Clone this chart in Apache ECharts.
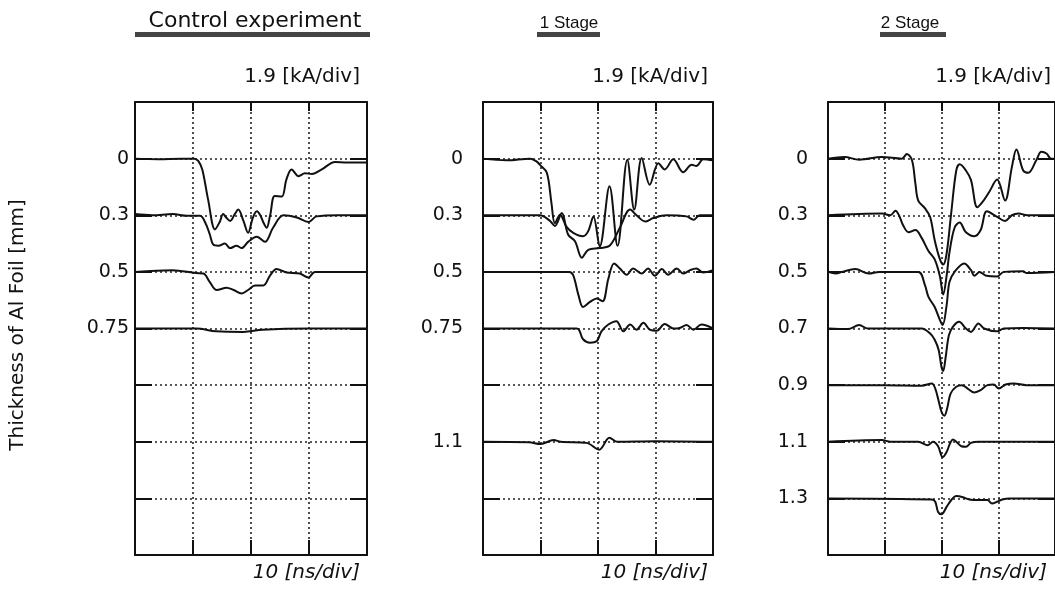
<!DOCTYPE html>
<html>
<head>
<meta charset="utf-8">
<script src="https://cdn.jsdelivr.net/npm/echarts@6/dist/echarts.min.js"></script>
<style>html,body{margin:0;padding:0;background:#fff}#c{width:1055px;height:593px}</style>
</head>
<body>
<div id="c"></div>
<script>
// ---- data: time [ns], deflection below baseline [div] (1 div = 1.9 kA) ----
const panelTitles = ['Control experiment', '1 Stage', '2 Stage'];
const currentScale = '1.9 [kA/div]';
const timeScale = '10 [ns/div]';
const yTitle = 'Thickness of Al Foil [mm]';

// row index (grid division) of each trace baseline and its label
const ctrlRows = [1, 2, 3, 4];
const ctrlLabels = ['0', '0.3', '0.5', '0.75'];
const s1Rows = [1, 2, 3, 4, 6];
const s1Labels = ['0', '0.3', '0.5', '0.75', '1.1'];
const s2Rows = [1, 2, 3, 4, 5, 6, 7];
const s2Labels = ['0', '0.3', '0.5', '0.7', '0.9', '1.1', '1.3'];

// Control experiment traces
const ctrl_0 = [[0,0],[4,0.01],[8,0],[10.2,0],[10.9,0.04],[11.6,0.19],[12.6,0.72],[13.8,1.25],[14.6,1.12],[15.2,0.98],[15.8,1.05],[16.4,1.1],[17.2,0.98],[17.8,0.9],[18.7,1.1],[19.5,1.31],[20.3,1.05],[21,0.93],[21.6,1.0],[22.1,1.12],[22.7,1.22],[23.3,1.0],[24.1,0.66],[25.3,0.67],[26.1,0.37],[27,0.19],[28.2,0.31],[29.3,0.26],[30.5,0.27],[32.2,0.19],[34.5,0.06],[36.5,0.07],[40,0.07]];
const ctrl_03 = [[0,-0.02],[3,0],[6.5,-0.02],[9,0.01],[11.2,0.01],[12.2,0.15],[12.9,0.34],[13.5,0.52],[14.4,0.54],[15.5,0.5],[16.4,0.58],[17.5,0.54],[18.4,0.58],[19.5,0.47],[21,0.38],[22.4,0.47],[23.8,0.22],[25.6,0],[27.9,0.04],[29.9,0.12],[31.3,0.02],[35,0],[40,0]];
const ctrl_05 = [[0,0],[6.4,-0.03],[10.5,0.02],[11.8,0.03],[12.9,0.18],[14.1,0.32],[15.8,0.28],[17,0.32],[18.4,0.38],[19.5,0.32],[20.7,0.24],[22.1,0.24],[23.3,0.06],[24.4,-0.05],[26.1,0.01],[28.4,0.03],[29.9,0.1],[31,0],[40,0]];
const ctrl_075 = [[0,0],[10.6,0],[14,0.05],[18.7,0.06],[22,0.02],[30,0],[40,0]];

// 1 Stage traces
const s1_0 = [[0,0],[4.1,0.03],[8.2,0],[9.3,0.05],[9.9,0.11],[11.1,0.25],[11.9,0.78],[12.5,1.14],[13.4,0.99],[14.5,1.2],[15.7,1.31],[17.4,1.37],[18.3,1.28],[19.2,1.02],[20.3,1.55],[22,0.49],[23.4,1.54],[25.1,0.02],[26.3,0.9],[27.6,-0.01],[29,0.46],[30.5,0.08],[31.6,0.19],[33.1,0.01],[34.8,0.24],[36.3,0.11],[37.1,0.13],[38.3,0.01],[40,0.03]];
const s1_03 = [[0,0],[9.9,0],[11.65,0.1],[12.5,0.19],[13.7,-0.04],[14.8,0.34],[16,0.46],[17.2,0.75],[18.3,0.61],[20.3,0.58],[22.1,0.53],[23.8,0.22],[25.6,-0.1],[26.7,0],[28.2,0.11],[29.6,0.05],[31.9,0],[35.4,0.02],[36.6,0.08],[37.7,0],[40,0]];
const s1_05 = [[0,0],[15,0],[15.7,0.06],[16.6,0.41],[17.4,0.62],[18.6,0.53],[19.8,0.47],[20.8,0.52],[21.8,0.12],[22.8,-0.15],[23.8,-0.06],[25,0.05],[26.1,-0.06],[27.6,0.03],[28.7,-0.06],[29.9,0.07],[31.1,-0.05],[32.2,0.05],[33.7,-0.06],[34.8,0.03],[36,-0.03],[37.1,-0.06],[38.3,0.01],[40,-0.03]];
const s1_075 = [[0,0],[16.3,0],[17.4,0.19],[18.6,0.25],[19.8,0.22],[20.6,0.05],[21.8,-0.07],[23.2,-0.13],[24.4,0.05],[25.6,-0.07],[26.7,0.02],[27.9,-0.1],[29,0.02],[30.2,0.04],[31.6,-0.08],[33.1,0],[34.2,-0.01],[35.4,-0.06],[36.6,0.02],[38,-0.07],[40,0]];
const s1_11 = [[0,0],[8,0.01],[10,0.04],[12.3,-0.03],[13.5,0],[18,0.02],[20.2,0.14],[22,-0.07],[23.3,0],[30,-0.01],[40,0]];

// 2 Stage traces
const s2_0 = [[0,0],[2.9,-0.03],[5.5,0.02],[9.5,-0.03],[13,0],[13.9,-0.08],[14.8,0.03],[15.4,0.44],[15.9,0.74],[17.1,0.88],[18,1.03],[18.8,1.44],[19.7,1.77],[20.3,1.87],[20.9,1.68],[21.7,0.97],[22.6,0.21],[23.2,0.1],[24.3,0.21],[25.2,0.38],[26.3,0.86],[27.2,0.77],[28.4,0.59],[29.8,0.37],[31.2,0.74],[32.4,0.15],[33.2,-0.16],[34.4,0.21],[35.3,0.25],[36.7,0.03],[37.6,-0.12],[38.5,-0.09],[39.3,0],[40,0]];
const s2_03 = [[0,0],[9.5,-0.03],[11,0],[11.9,-0.08],[12.5,0],[13.3,0.19],[14.2,0.3],[15.4,0.26],[16.5,0.4],[17.7,0.63],[18.8,0.78],[19.7,1.07],[20.3,1.4],[20.9,1.07],[21.4,0.66],[22.3,0.22],[23.2,0.13],[24.3,0.3],[25.8,0.37],[26.9,0.26],[28,-0.07],[29.8,0.03],[31.2,0.1],[32.4,0],[33.6,-0.03],[35.1,0],[40,0]];
const s2_05 = [[0,0],[1.4,0.03],[2.5,0],[4.8,-0.05],[7.2,0.03],[9,0],[15.9,0],[17.1,0.24],[17.7,0.44],[18.8,0.62],[19.6,0.82],[20.2,0.94],[20.9,0.59],[21.4,0.18],[22.3,0],[24,-0.15],[25.2,-0.03],[25.8,0.07],[26.7,0],[27.9,0.07],[29.8,0.08],[31,0],[34.4,-0.01],[35,0.02],[40,0]];
const s2_07 = [[0,0],[3.5,0.01],[5.5,-0.06],[7,0],[16.5,0],[18,0.09],[18.8,0.2],[19.5,0.38],[20,0.68],[20.3,0.75],[20.7,0.53],[21.3,0.12],[22,-0.03],[23.1,-0.12],[24.3,0],[25.2,0.06],[26.5,-0.09],[27.5,0],[29.8,0.05],[31,0],[34.4,-0.01],[40,0]];
const s2_09 = [[0,0],[10,0],[16.5,0.01],[18.3,-0.03],[18.9,0.06],[19.4,0.24],[20,0.47],[20.5,0.54],[21,0.41],[21.6,0.15],[22.6,0.03],[23.6,0],[24.6,0.06],[25.8,0.13],[26.9,0.09],[28.1,0],[29.2,-0.01],[30.1,0.06],[31.3,-0.01],[32.7,-0.03],[35,0],[40,0]];
const s2_11 = [[0,0],[9.5,-0.03],[11,0],[15.9,0],[17.6,0.06],[18.5,0],[19.4,0.08],[20.2,0.27],[20.9,0.18],[21.5,0.03],[22,-0.04],[22.6,0],[23.5,0.08],[24.3,0.09],[25.2,0.02],[26.5,0],[40,0]];
const s2_13 = [[0,0],[18.3,0.02],[18.9,0.06],[19.4,0.24],[20,0.28],[20.9,0.15],[21.8,0.02],[22.6,-0.04],[23.8,-0.02],[24.9,0.02],[26.4,0.03],[28.1,0.03],[28.9,0.09],[29.8,0.06],[30.7,0.02],[32,0],[40,0]];

const panels = [
  {rows: ctrlRows, labels: ctrlLabels, traces: [ctrl_0, ctrl_03, ctrl_05, ctrl_075]},
  {rows: s1Rows, labels: s1Labels, traces: [s1_0, s1_03, s1_05, s1_075, s1_11]},
  {rows: s2Rows, labels: s2Labels, traces: [s2_0, s2_03, s2_05, s2_07, s2_09, s2_11, s2_13]}
];

// ---- layout ----
const gridLeft = [135, 483, 828];
const gridWidth = [232, 230, 231];
const labelMargin = [6, 20, 20];
const FONT = 'DejaVu Sans';

const grids = [], xAxes = [], yAxes = [], series = [];
const tick = len => ({show: true, inside: true, length: len, lineStyle: {color: '#111', width: 2}});
const axLine = () => ({show: true, onZero: false, lineStyle: {color: '#111', width: 2}});
const dotted = {show: true, lineStyle: {color: '#222', width: 1.6, type: [2, 3]}};
panels.forEach((p, i) => {
  grids.push({left: gridLeft[i], top: 102, width: gridWidth[i], height: 453});
  xAxes.push({gridIndex: i, type: 'value', min: 0, max: 40, interval: 10, position: 'bottom',
    axisLine: axLine(), axisTick: tick(15), axisLabel: {show: false}, splitLine: dotted});
  xAxes.push({gridIndex: i, type: 'value', min: 0, max: 40, interval: 10, position: 'top',
    axisLine: axLine(), axisTick: tick(9), axisLabel: {show: false}, splitLine: {show: false}});
  const labelMap = {};
  p.rows.forEach((r, k) => { labelMap[r] = p.labels[k]; });
  yAxes.push({gridIndex: i, type: 'value', min: 0, max: 8, interval: 1, inverse: true, position: 'left',
    axisLine: axLine(), axisTick: tick(17),
    axisLabel: {show: true, margin: labelMargin[i], color: '#111', fontFamily: FONT, fontSize: 19,
      formatter: v => (labelMap[v] !== undefined ? labelMap[v] : '')},
    splitLine: dotted});
  yAxes.push({gridIndex: i, type: 'value', min: 0, max: 8, interval: 1, inverse: true, position: 'right',
    axisLine: axLine(), axisTick: tick(17), axisLabel: {show: false}, splitLine: {show: false}});
  p.traces.forEach((tr, k) => {
    const base = p.rows[k];
    series.push({type: 'line', xAxisIndex: 2 * i, yAxisIndex: 2 * i,
      data: tr.map(d => [d[0], base + d[1]]),
      showSymbol: false, smooth: 0.35, silent: true, clip: true,
      lineStyle: {color: '#111', width: 2}});
  });
});

const txt = (x, y, s, font, align) => ({type: 'text', x: x, y: y, silent: true,
  style: {text: s, fill: '#111', font: font, textAlign: align, textVerticalAlign: 'middle'}});
const F = (size, fam, style) => (style ? style + ' ' : '') + size + 'px "' + (fam || FONT) + '"';

const graphic = [
  txt(255, 21, panelTitles[0], F(22), 'center'),
  txt(569, 23, panelTitles[1], F(17, 'Liberation Sans'), 'center'),
  txt(910, 23, panelTitles[2], F(17, 'Liberation Sans'), 'center'),
  {type: 'rect', shape: {x: 135, y: 32, width: 235, height: 5}, style: {fill: '#444'}, silent: true},
  {type: 'rect', shape: {x: 537, y: 32, width: 63, height: 5}, style: {fill: '#444'}, silent: true},
  {type: 'rect', shape: {x: 880, y: 32, width: 66, height: 5}, style: {fill: '#444'}, silent: true},
  txt(360, 77, currentScale, F(20), 'right'),
  txt(708, 77, currentScale, F(20), 'right'),
  txt(1051, 77, currentScale, F(20), 'right'),
  txt(360, 573, timeScale, F(20, null, 'italic'), 'right'),
  txt(708, 573, timeScale, F(20, null, 'italic'), 'right'),
  txt(1047, 573, timeScale, F(20, null, 'italic'), 'right'),
  Object.assign(txt(18, 325, yTitle, F(20), 'center'), {rotation: Math.PI / 2})
];

const chart = echarts.init(document.getElementById('c'), null, {renderer: 'canvas'});
chart.setOption({
  animation: false,
  backgroundColor: '#fff',
  grid: grids, xAxis: xAxes, yAxis: yAxes, series: series, graphic: graphic
});
</script>
</body>
</html>
